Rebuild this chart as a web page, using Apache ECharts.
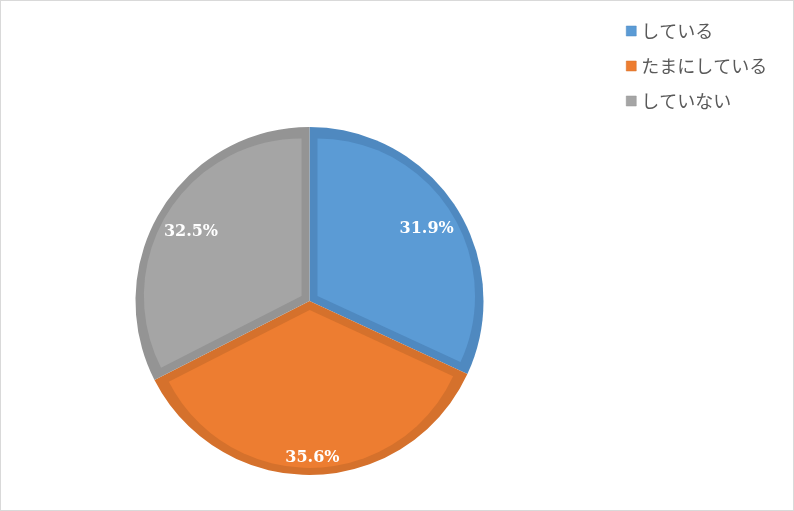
<!DOCTYPE html>
<html><head><meta charset="utf-8">
<script src="https://cdn.jsdelivr.net/npm/echarts@6/dist/echarts.min.js"></script>
<style>
html,body{margin:0;padding:0;background:#fff}
#wrap{position:relative;width:794px;height:511px}
#c{width:794px;height:511px}
#frame{position:absolute;left:0;top:0;width:794px;height:511px;box-sizing:border-box;border:1px solid #d9d9d9;pointer-events:none}
</style>
</head><body>
<div id="wrap"><div id="c"></div><div id="frame"></div></div>
<script>
const categories = ['している', 'たまにしている', 'していない'];
const values = [31.9, 35.6, 32.5];
const fillColors = ['#5B9BD5', '#ED7D31', '#A5A5A5'];
const edgeColors = ['#4F89C0', '#D5712C', '#949494'];
const labelDistance = [139, 154, 139];

const cx = 309.5, cy = 301, R = 174, inset = 8;
const total = values.reduce((a, b) => a + b, 0);
const TRANSP = 'rgba(0,0,0,0)';
const common = {
  type: 'pie', silent: true, animation: false, startAngle: 90, clockwise: true,
  avoidLabelOverlap: false, labelLine: { show: false }, emphasis: { disabled: true }
};

const series = [];
// darker edge layer
series.push(Object.assign({}, common, {
  radius: R, center: [cx, cy],
  itemStyle: { borderWidth: 0 },
  label: { show: false },
  data: values.map((v, i) => ({ name: categories[i], value: v, itemStyle: { color: edgeColors[i] } }))
}));
// lighter inner fill for each slice, shifted inward so the edge shows as an inner border
let cum = 0;
values.forEach((v, i) => {
  const half = Math.PI * v / total;
  const midDeg = 90 - 360 * (cum + v / 2) / total;
  const a = midDeg * Math.PI / 180;
  const d = inset / Math.sin(half);
  series.push(Object.assign({}, common, {
    radius: R - inset - d + 1,
    center: [cx + d * Math.cos(a), cy - d * Math.sin(a)],
    itemStyle: { borderWidth: 0 },
    label: { show: false },
    data: values.map((w, j) => ({ name: categories[j], value: w,
      itemStyle: { color: j === i ? fillColors[i] : TRANSP } }))
  }));
  cum += v;
});
// label layers (one per slice, each at its own distance)
values.forEach((v, i) => {
  series.push(Object.assign({}, common, {
    radius: 2 * (labelDistance[i] - 3), center: [cx, cy + 3], z: 5,
    itemStyle: { color: TRANSP, borderWidth: 0 },
    label: {
      show: true, position: 'inside', color: '#fff',
      fontFamily: 'DejaVu Serif', fontWeight: 'bold', fontSize: 16,
      formatter: p => p.value.toFixed(1) + '%'
    },
    data: values.map((w, j) => ({ name: categories[j], value: w,
      label: { show: j === i } }))
  }));
});

const chart = echarts.init(document.getElementById('c'));
chart.setOption({
  backgroundColor: '#fff',
  legend: {
    orient: 'vertical', left: 621, top: 16, itemWidth: 10, itemHeight: 10, itemGap: 15,
    icon: 'rect', selectedMode: false,
    textStyle: { color: '#595959', fontSize: 18, lineHeight: 20, fontFamily: 'Noto Sans CJK JP' },
    data: categories.map((n, i) => ({ name: n, itemStyle: { color: fillColors[i], borderColor: edgeColors[i], borderWidth: 0.5 } }))
  },
  series: series
});
</script>
</body></html>
